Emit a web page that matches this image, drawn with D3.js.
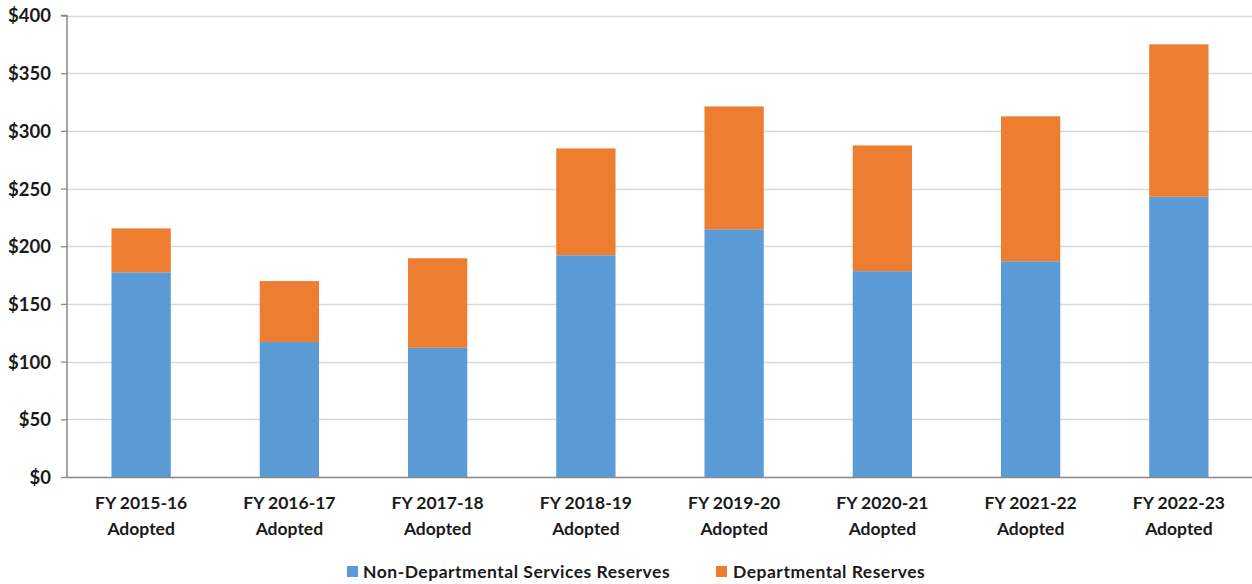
<!DOCTYPE html>
<html><head><meta charset="utf-8">
<script src="https://cdn.jsdelivr.net/npm/d3@7"></script>
<style>body{margin:0;background:#fff}svg{display:block}text{font-family:Lato,"Open Sans",sans-serif;font-weight:bold;fill:#1a1a1a}</style>
</head><body><svg id="c" width="1252" height="584"></svg>
<script>
const categories = ["FY 2015-16|Adopted","FY 2016-17|Adopted","FY 2017-18|Adopted","FY 2018-19|Adopted","FY 2019-20|Adopted","FY 2020-21|Adopted","FY 2021-22|Adopted","FY 2022-23|Adopted"];
const nonDeptReserves = [177.4, 117, 112, 192.2, 214.7, 178.4, 187, 242.9];
const deptReserves = [38.1, 52.8, 77.6, 92.6, 106.5, 109, 125.6, 132.1];
const seriesNames = ["Non-Departmental Services Reserves","Departmental Reserves"];
const colors = ["#5b9bd5","#ed7d31"];
const yTicks = [0,50,100,150,200,250,300,350,400];

const svg = d3.select("#c");
const m = {l:67, r:1253, t:15.5, b:477};
const x = d3.scaleBand().domain(categories).range([m.l, m.r]).paddingInner(0.6).paddingOuter(0.3);
const y = d3.scaleLinear().domain([0,400]).range([m.b, m.t]);

// gridlines
svg.append("g").selectAll("line").data(yTicks.filter(d=>d>0)).join("line")
  .attr("x1", m.l).attr("x2", m.r).attr("y1", d=>Math.round(y(d))+0.5).attr("y2", d=>Math.round(y(d))+0.5)
  .attr("stroke","#d9d9d9").attr("stroke-width",1.3);

const rows = categories.map((c,i)=>({cat:c, a:nonDeptReserves[i], b:deptReserves[i]}));
const stack = d3.stack().keys(["a","b"])(rows);
svg.append("g").selectAll("g").data(stack).join("g").attr("fill",(d,i)=>colors[i])
  .selectAll("rect").data(d=>d).join("rect")
  .attr("x", d=>x(d.data.cat)).attr("width", x.bandwidth())
  .attr("y", d=>y(d[1])).attr("height", d=>y(d[0])-y(d[1]));

// y axis
const ya = svg.append("g").attr("transform",`translate(${m.l},0)`)
  .call(d3.axisLeft(y).tickValues(yTicks).tickFormat(d=>"$"+d).tickSize(6).tickPadding(10));
ya.select(".domain").attr("stroke","#888").attr("stroke-width",1.5).attr("d",`M-6,${y(400)}H0V${m.b}`);
ya.selectAll(".tick line").attr("stroke","#888").attr("stroke-width",1.3);
ya.selectAll(".tick text").style("font-size","18.5px").attr("fill","#1a1a1a").attr("dy","0.35em");

// x axis
svg.append("line").attr("x1",m.l).attr("x2",m.r).attr("y1",m.b+0.5).attr("y2",m.b+0.5).attr("stroke","#888").attr("stroke-width",1.5);
const xl = svg.append("g").selectAll("text").data(categories).join("text")
  .attr("x", d=>x(d)+x.bandwidth()/2).attr("text-anchor","middle").style("font-size","17.5px");
xl.each(function(d){
  const parts = d.split("|");
  const t = d3.select(this);
  t.append("tspan").attr("x", x(d)+x.bandwidth()/2).attr("y", 509).text(parts[0]);
  t.append("tspan").attr("x", x(d)+x.bandwidth()/2).attr("y", 535).text(parts[1]);
});

// legend
const leg = [{x:347, tx:363},{x:716, tx:733}];
seriesNames.forEach((n,i)=>{
  svg.append("rect").attr("x",leg[i].x).attr("y",566).attr("width",11).attr("height",11).attr("fill",colors[i]);
  svg.append("text").attr("x",leg[i].tx).attr("y",578).style("font-size","17.5px").style("letter-spacing","0.5px").text(n);
});
</script></body></html>
